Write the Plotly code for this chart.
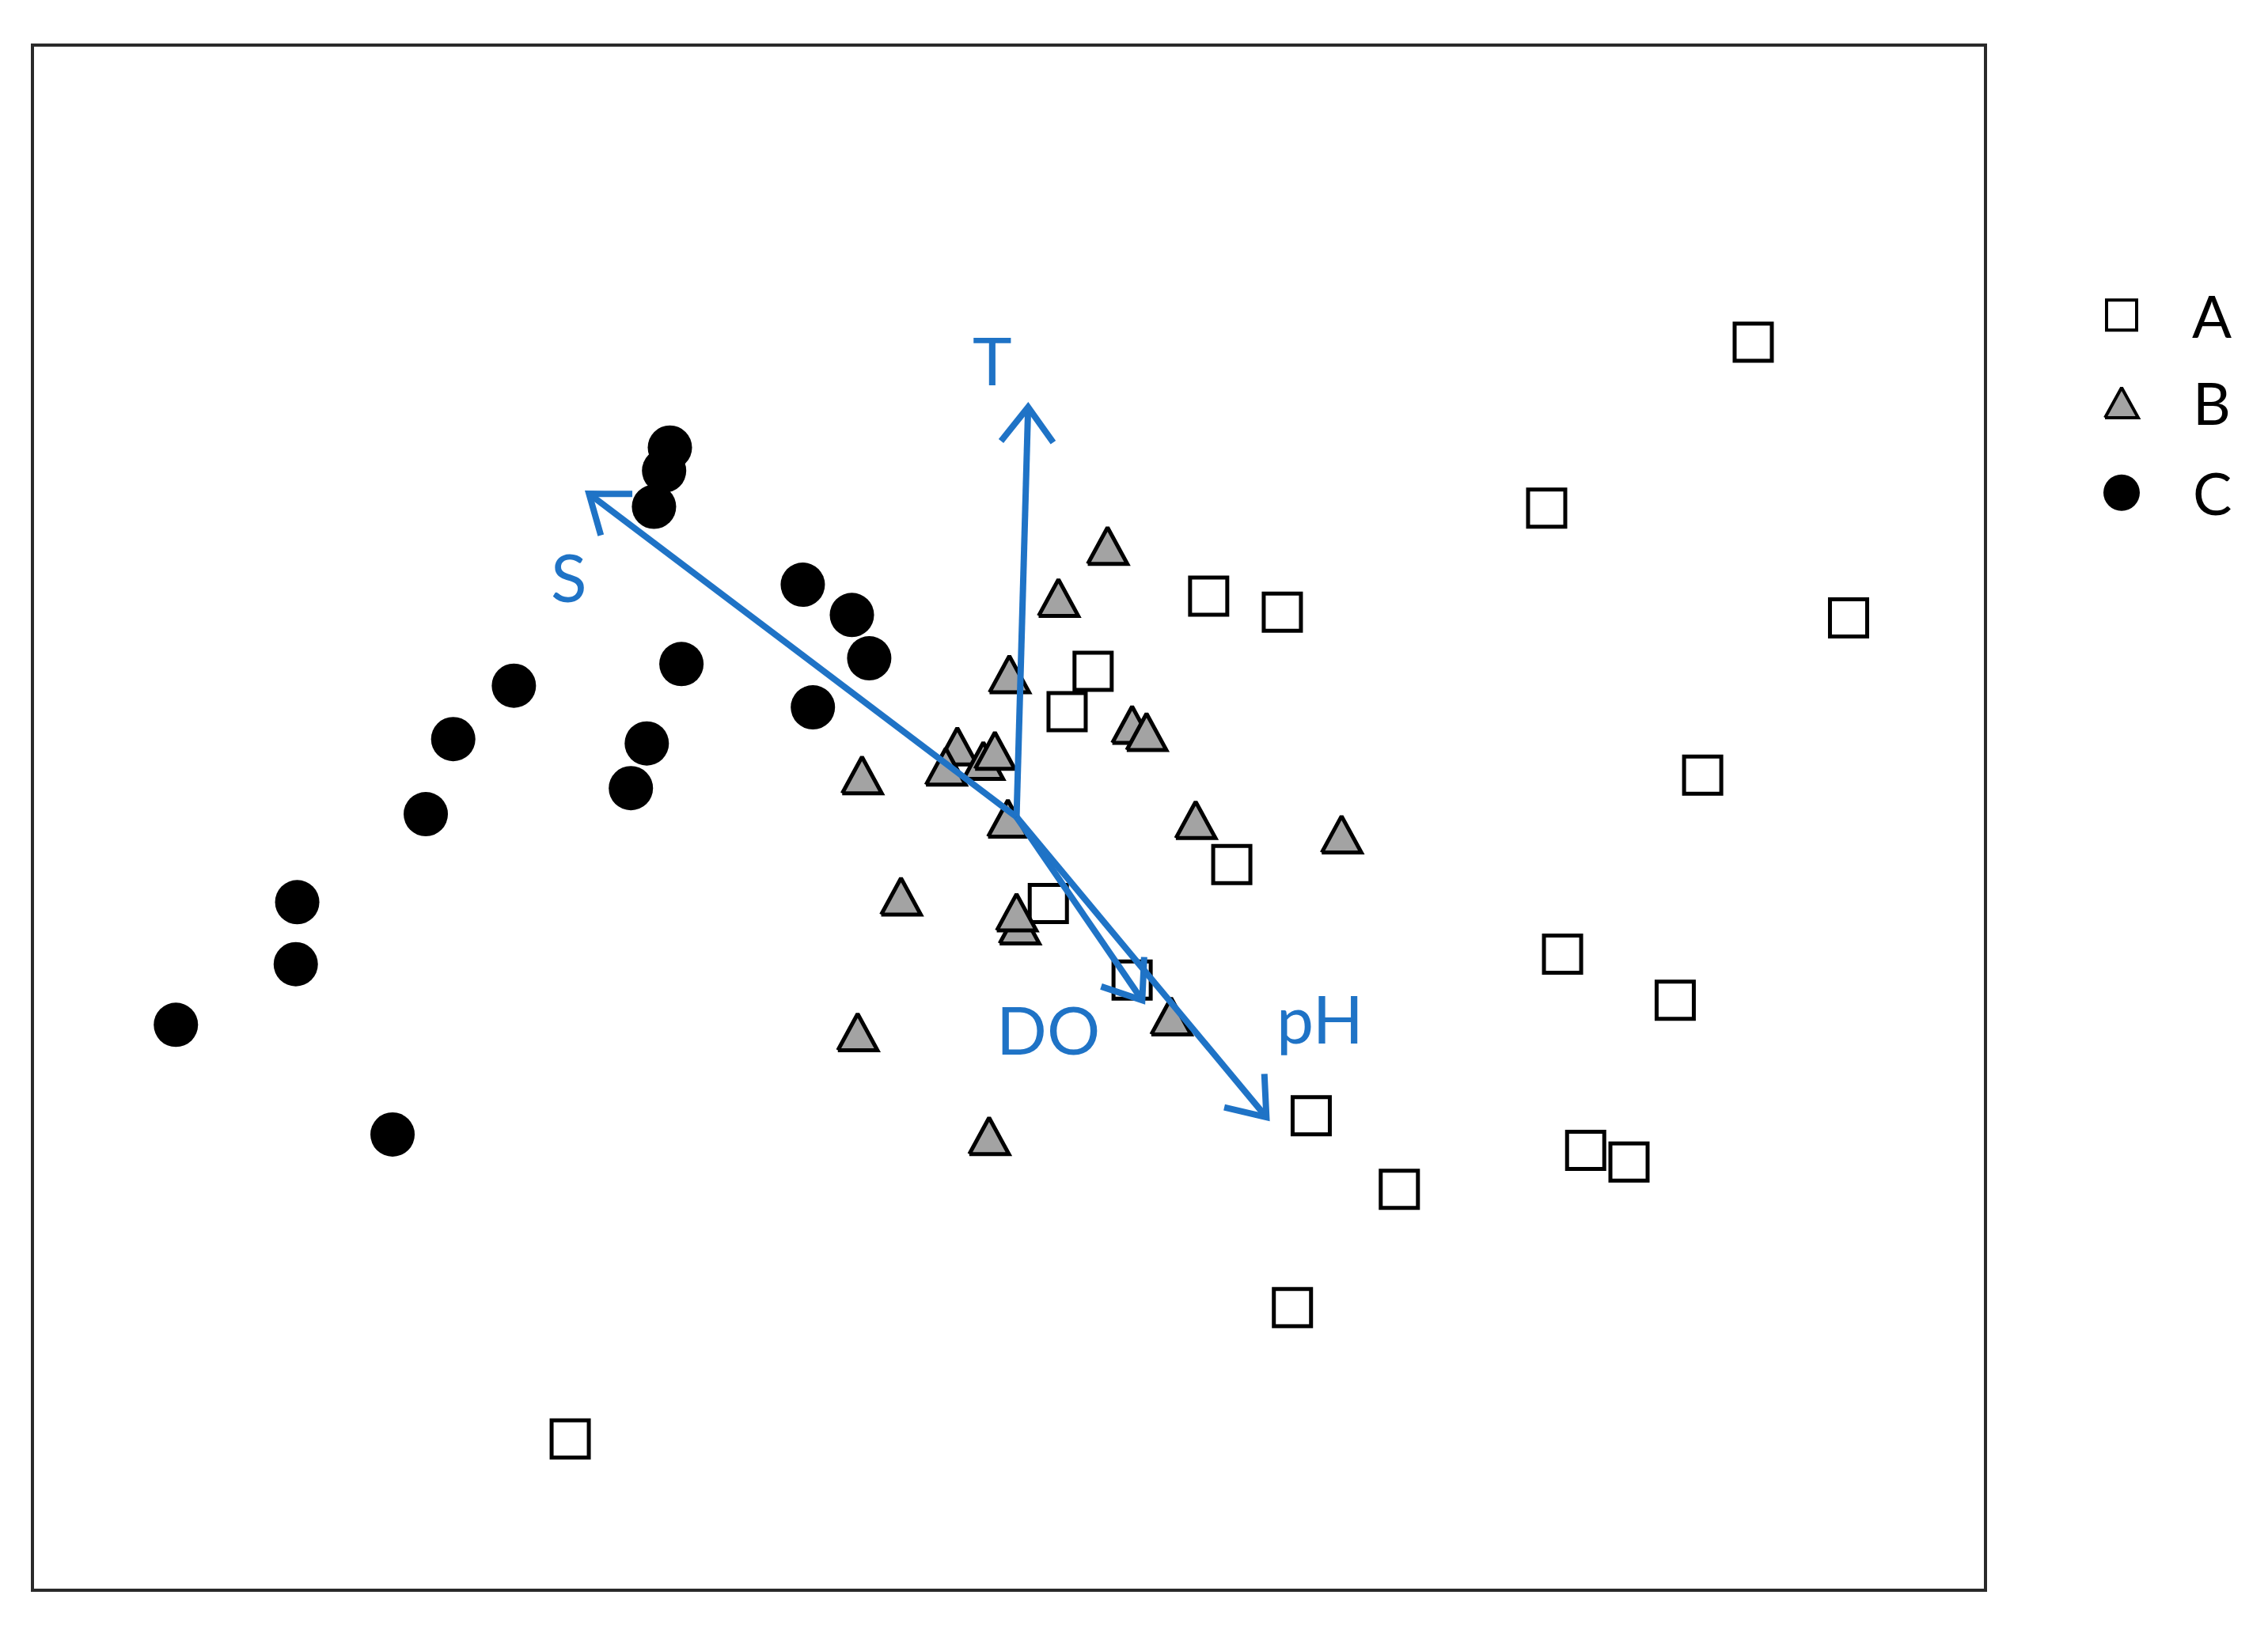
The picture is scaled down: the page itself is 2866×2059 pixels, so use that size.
import numpy as np
import plotly.graph_objects as go

# site scores on the two ordination axes
a_x = [5.10, 3.67, 5.76, 1.33, 1.84, 0.53, 0.35, 4.75, 1.49, 0.22, 0.80, 3.78,
       4.56, 2.04, 2.65, 3.94, 4.24, 1.91, -3.09]
a_y = [3.29, 2.14, 1.38, 1.53, 1.42, 1.01, 0.73, 0.29, -0.33, -0.60, -1.13, -0.95,
       -1.27, -2.07, -2.58, -2.31, -2.39, -3.40, -4.31]

b_x = [0.63, 0.29, -0.05, -0.41, -0.23, -0.15, -0.49, 0.80, 0.90, -1.07, -0.06,
       1.24, 2.25, -0.80, 0.02, 0.00, 1.07, -1.10, -0.19]
b_y = [1.88, 1.52, 0.99, 0.49, 0.39, 0.46, 0.35, 0.64, 0.59, 0.29, -0.01,
       -0.02, -0.12, -0.55, -0.75, -0.66, -1.38, -1.49, -2.21]

c_x = [-2.40, -2.44, -2.51, -1.48, -1.14, -1.02, -2.32, -1.41, -3.48, -3.90,
       -2.56, -2.67, -4.09, -4.98, -4.99, -5.82, -4.32]
c_y = [2.56, 2.40, 2.15, 1.61, 1.40, 1.10, 1.06, 0.76, 0.91, 0.54,
       0.51, 0.20, 0.02, -0.59, -1.02, -1.44, -2.20]

# environmental vectors
env_names = ["S", "T", "DO", "pH"]
env_x = [-2.96, 0.08, 0.87, 1.73]
env_y = [2.24, 2.84, -1.27, -2.08]

groups = ["A", "B", "C"]

# ---- layout constants (page body has an 8px margin) ----
W, H = 2850, 2043
L_M, R_M, T_M, B_M = 35, 8, 51, 43
FRAME_RIGHT = 2499
x_range = [-6.802, 6.697]
y_range = [-5.347, 5.338]
ppu = (H - T_M - B_M) / (y_range[1] - y_range[0])   # pixels per data unit
main_frac = (FRAME_RIGHT - L_M) / (W - L_M - R_M)
leg_span = (W - R_M - FRAME_RIGHT) / ppu

BLUE = "#1f73c6"
GREY = "#a3a3a3"
FONT = "Lato"

# label offsets from arrow tips (data units)
label_dx = [-0.14, -0.25, -0.65, 0.37]
label_dy = [-0.57, 0.33, -0.20, 0.69]


def tri_path(x, y, w_px, h_px):
    w, h = w_px / ppu, h_px / ppu
    return [x - w / 2, x + w / 2, x, x - w / 2], [y - h / 2, y - h / 2, y + h / 2, y - h / 2]


fig = go.Figure()

fig.add_trace(go.Scatter(x=a_x, y=a_y, mode="markers",
                         marker=dict(symbol="square", size=47, color="white",
                                     line=dict(color="black", width=5))))

for x, y in zip(b_x, b_y):
    tx, ty = tri_path(x, y, 50, 46)
    fig.add_trace(go.Scatter(x=tx, y=ty, mode="lines", fill="toself", fillcolor=GREY,
                             line=dict(color="black", width=5)))

fig.add_trace(go.Scatter(x=c_x, y=c_y, mode="markers",
                         marker=dict(symbol="circle", size=56, color="black",
                                     line=dict(width=0))))

# biplot arrows with open heads
head_len, head_ang = 0.30, np.radians(37)
ax_, ay_ = [], []
for x, y in zip(env_x, env_y):
    ang = np.arctan2(y, x)
    ax_ += [0, x, None,
            x - head_len * np.cos(ang + head_ang), x, x - head_len * np.cos(ang - head_ang), None]
    ay_ += [0, y, None,
            y - head_len * np.sin(ang + head_ang), y, y - head_len * np.sin(ang - head_ang), None]
fig.add_trace(go.Scatter(x=ax_, y=ay_, mode="lines", line=dict(color=BLUE, width=8)))

for name, x, y, dx, dy in zip(env_names, env_x, env_y, label_dx, label_dy):
    fig.add_annotation(x=x + dx, y=y + dy, text=name, showarrow=False,
                       font=dict(family=FONT, size=84, color=BLUE))

# hand-built legend on a side subplot
leg_sym_x = (2673 - FRAME_RIGHT) / ppu
leg_txt_x = (2787 - FRAME_RIGHT) / ppu
leg_y = [3.478, 2.871, 2.247]
fig.add_trace(go.Scatter(x=[leg_sym_x], y=[leg_y[0]], xaxis="x2", yaxis="y2", mode="markers",
                         marker=dict(symbol="square", size=38, color="white",
                                     line=dict(color="black", width=4))))
tx, ty = tri_path(leg_sym_x, leg_y[1], 42, 38)
fig.add_trace(go.Scatter(x=tx, y=ty, xaxis="x2", yaxis="y2", mode="lines", fill="toself",
                         fillcolor=GREY, line=dict(color="black", width=4)))
fig.add_trace(go.Scatter(x=[leg_sym_x], y=[leg_y[2]], xaxis="x2", yaxis="y2", mode="markers",
                         marker=dict(symbol="circle", size=46, color="black", line=dict(width=0))))
for g, y in zip(groups, leg_y):
    fig.add_annotation(x=leg_txt_x, y=y, xref="x2", yref="y2", text=g, showarrow=False,
                       font=dict(family=FONT, size=74, color="black"))

axis_common = dict(showgrid=False, zeroline=False, showticklabels=False, ticks="")
fig.update_layout(
    width=W, height=H,
    margin=dict(l=L_M, r=R_M, t=T_M, b=B_M, pad=0),
    plot_bgcolor="white", paper_bgcolor="white",
    showlegend=False, hovermode=False,
    xaxis=dict(domain=[0, main_frac], range=x_range, showline=True, mirror=True,
               linecolor="#2a2a2a", linewidth=4, **axis_common),
    yaxis=dict(range=y_range, showline=True, mirror=True,
               linecolor="#2a2a2a", linewidth=4, **axis_common),
    xaxis2=dict(domain=[main_frac, 1], range=[0, leg_span], anchor="y2", visible=False),
    yaxis2=dict(domain=[0, 1], range=y_range, anchor="x2", visible=False),
)

fig.write_html("out.html")
